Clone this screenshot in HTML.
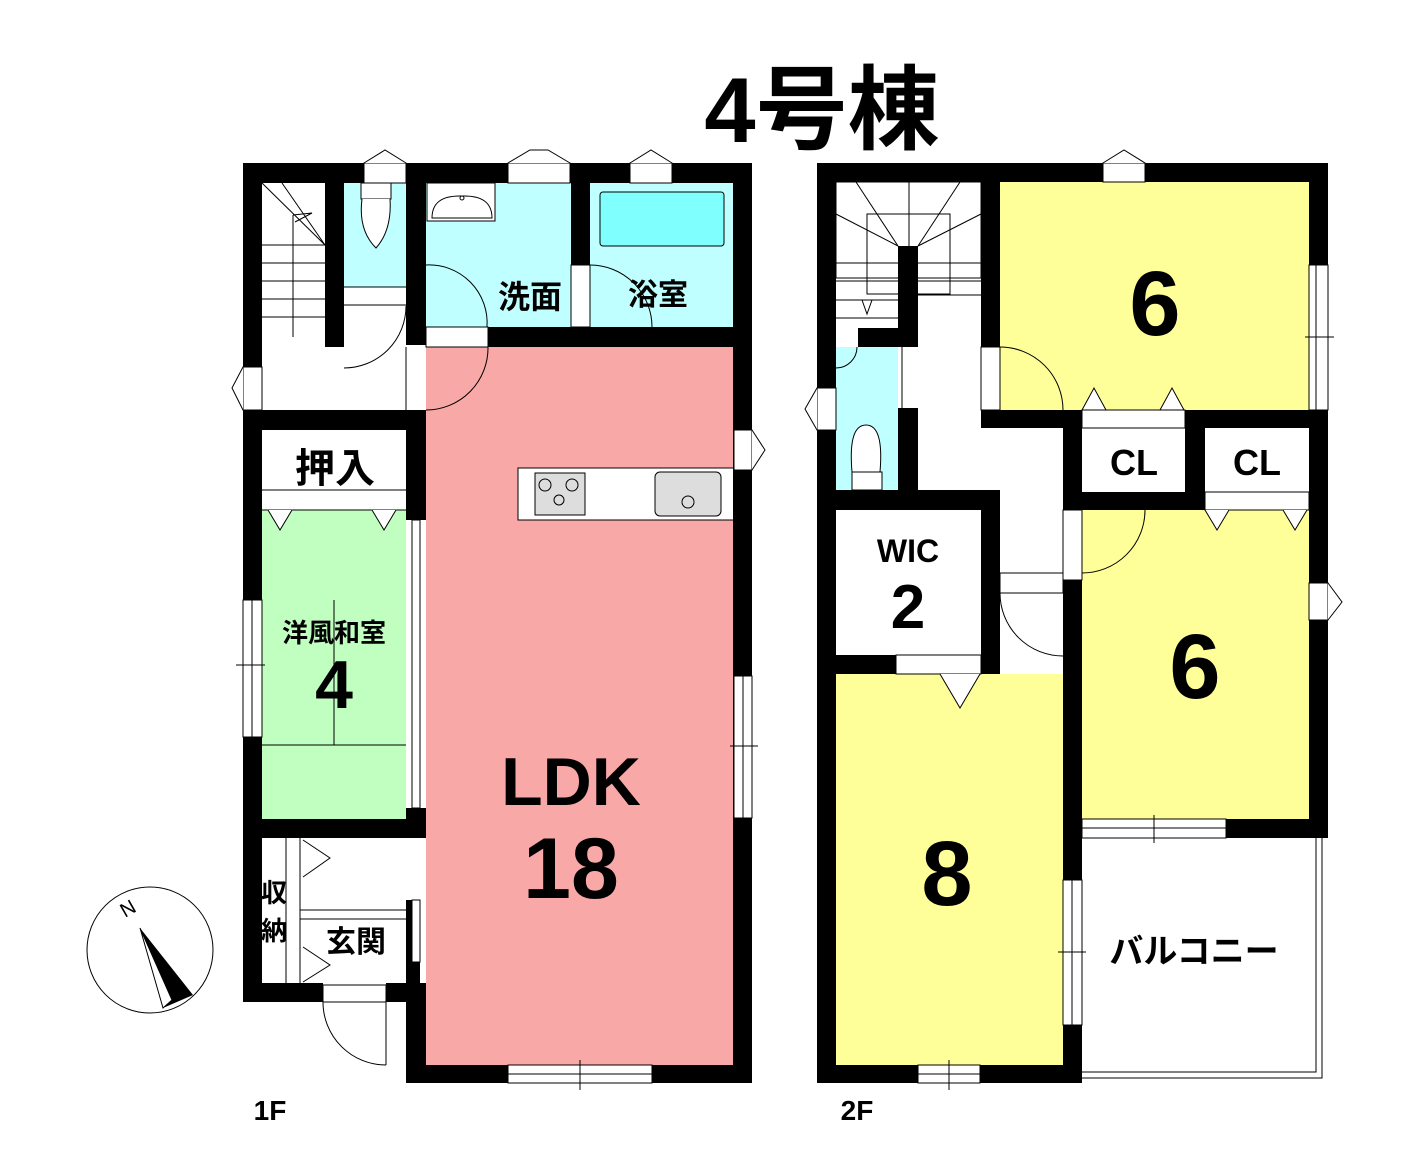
<!DOCTYPE html>
<html><head><meta charset="utf-8"><style>
html,body{margin:0;padding:0;background:#fff}
svg{display:block}
text{font-family:"Liberation Sans","Noto Sans CJK JP",sans-serif;font-weight:bold}
</style></head><body>
<svg width="1412" height="1176" viewBox="0 0 1412 1176" xmlns="http://www.w3.org/2000/svg">
<rect width="1412" height="1176" fill="#fff"/>
<text x="822" y="142" font-size="92" text-anchor="middle">4号棟</text>

<!-- ===== 1F fills ===== -->
<rect x="426" y="346" width="308" height="719" fill="#f9a8a8"/>
<rect x="344" y="183" width="62" height="104" fill="#c0ffff"/>
<rect x="426" y="183" width="145" height="144" fill="#c0ffff"/>
<rect x="590" y="183" width="144" height="144" fill="#c0ffff"/>
<rect x="600" y="192" width="124" height="54" rx="3" fill="#80ffff" stroke="#000"/>
<rect x="262" y="510" width="144" height="309" fill="#c0ffc0"/>
<g stroke="#000" stroke-width="1" fill="none">
<line x1="262" y1="745" x2="406" y2="745"/><line x1="334" y1="600" x2="334" y2="745"/>
<line x1="262" y1="490" x2="406" y2="490"/><line x1="262" y1="510" x2="406" y2="510"/>
<polyline points="268,510 280,530 292,510" fill="#fff"/><polyline points="372,510 384,530 396,510" fill="#fff"/>
<line x1="262" y1="245" x2="325" y2="245"/><line x1="262" y1="263" x2="325" y2="263"/>
<line x1="262" y1="281" x2="325" y2="281"/><line x1="262" y1="299" x2="325" y2="299"/>
<line x1="262" y1="317" x2="325" y2="317"/><line x1="293" y1="215" x2="293" y2="337"/>
<line x1="262" y1="183" x2="325" y2="245"/><line x1="282" y1="183" x2="325" y2="245"/>
<polyline points="293,215 312,213 295,222"/>
<rect x="361" y="183" width="30" height="16" fill="#fff"/>
<path d="M362,199 Q358,230 376,248 Q392,230 390,199" fill="#fff"/>
<rect x="427" y="183" width="68" height="38" fill="#fff"/>
<path d="M432,218 Q432,195 462,196 Q492,195 492,218Z" fill="#fff"/><circle cx="462" cy="198" r="2"/>
<line x1="344" y1="287" x2="406" y2="287"/><line x1="344" y1="305" x2="406" y2="305"/>
<path d="M344,368 A62,62 0 0 0 406,306"/>
<path d="M426,265 A58,58 0 0 1 487,327"/>
<rect x="571" y="265" width="19" height="62" fill="#fff"/>
<path d="M590,265 A62,62 0 0 1 652,327"/>
<rect x="426" y="327" width="62" height="20" fill="#fff"/>
<path d="M426,410 A62,62 0 0 0 488,347"/>
<line x1="406" y1="347" x2="406" y2="410"/>
<rect x="518" y="468" width="216" height="52" fill="#fff"/>
<rect x="535" y="473" width="50" height="42" fill="#ddd"/>
<rect x="655" y="472" width="66" height="44" rx="5" fill="#ddd"/>
<circle cx="545" cy="485" r="6"/><circle cx="572" cy="485" r="6"/><circle cx="559" cy="500" r="5"/><circle cx="688" cy="502" r="6"/>
<line x1="286" y1="838" x2="286" y2="983"/><line x1="300" y1="838" x2="300" y2="983"/>
<polyline points="303,840 330,858 303,877"/><polyline points="303,947 330,965 303,982"/>
<line x1="300" y1="910" x2="406" y2="910"/><line x1="300" y1="919" x2="406" y2="919"/>
<rect x="323" y="985" width="63" height="17" fill="#fff"/>
<path d="M323,1002 A63,63 0 0 0 386,1065"/><line x1="386" y1="1002" x2="386" y2="1065"/>
</g>
<g fill="#000">
<rect x="243" y="163" width="509" height="20"/>
<rect x="243" y="163" width="19" height="839"/>
<rect x="325" y="183" width="19" height="164"/>
<rect x="406" y="183" width="20" height="162"/>
<rect x="571" y="183" width="19" height="82"/>
<rect x="488" y="327" width="264" height="20"/>
<rect x="733" y="163" width="19" height="920"/>
<rect x="243" y="410" width="183" height="20"/>
<rect x="406" y="410" width="20" height="110"/>
<rect x="406" y="808" width="20" height="30"/>
<rect x="243" y="819" width="183" height="19"/>
<rect x="406" y="900" width="14" height="102"/>
<rect x="243" y="983" width="80" height="19"/><rect x="386" y="983" width="40" height="19"/>
<rect x="406" y="983" width="20" height="100"/>
<rect x="406" y="1065" width="346" height="18"/>
</g>
<g fill="#fff" stroke="#000" stroke-width="1">
<rect x="364" y="163" width="42" height="20"/><polyline points="364,163 385,150 406,163"/>
<rect x="508" y="163" width="62" height="20"/><polyline points="508,163 530,150 548,150 570,163"/>
<rect x="630" y="163" width="42" height="20"/><polyline points="630,163 651,150 672,163"/>
<rect x="243" y="367" width="19" height="43"/><polyline points="243,367 232,388 243,410"/>
<rect x="734" y="430" width="18" height="40"/><polyline points="752,430 765,450 752,470"/>
<rect x="734" y="676" width="18" height="142"/><line x1="743" y1="676" x2="743" y2="818"/><line x1="730" y1="746" x2="758" y2="746"/>
<rect x="243" y="600" width="19" height="137"/><line x1="252" y1="600" x2="252" y2="737"/><line x1="236" y1="665" x2="265" y2="665"/>
<rect x="508" y="1065" width="144" height="18"/><line x1="508" y1="1074" x2="652" y2="1074"/><line x1="580" y1="1060" x2="580" y2="1090"/>
<rect x="412" y="520" width="8" height="288"/>
<rect x="412" y="900" width="8" height="62"/>
</g>
<text x="335" y="482" font-size="40" text-anchor="middle">押入</text>
<text x="334" y="642" font-size="26" text-anchor="middle">洋風和室</text>
<text x="334" y="708" font-size="68" text-anchor="middle">4</text>
<text x="498" y="308" font-size="32">洗面</text>
<text x="628" y="305" font-size="30">浴室</text>
<text x="571" y="805" font-size="68" text-anchor="middle">LDK</text>
<text x="571" y="898" font-size="86" text-anchor="middle">18</text>
<text x="261" y="902" font-size="26">収</text><text x="261" y="940" font-size="26">納</text>
<text x="356" y="952" font-size="30" text-anchor="middle">玄関</text>
<text x="270" y="1120" font-size="28" text-anchor="middle">1F</text>

<!-- ===== 2F ===== -->
<rect x="1000" y="182" width="309" height="228" fill="#ffff99"/>
<rect x="1082" y="510" width="227" height="309" fill="#ffff99"/>
<rect x="836" y="674" width="227" height="391" fill="#ffff99"/>
<rect x="836" y="347" width="62" height="143" fill="#c0ffff"/>
<g stroke="#000" stroke-width="1" fill="none">
<rect x="836" y="182" width="145" height="96" fill="#fff"/>
<line x1="836" y1="214" x2="898" y2="246"/><line x1="856" y1="182" x2="898" y2="246"/>
<line x1="960" y1="182" x2="918" y2="246"/><line x1="981" y1="214" x2="918" y2="246"/>
<line x1="909" y1="182" x2="909" y2="246"/>
<rect x="867" y="214" width="83" height="80"/>
<line x1="836" y1="263" x2="898" y2="263"/><line x1="836" y1="281" x2="898" y2="281"/><line x1="836" y1="300" x2="898" y2="300"/><line x1="836" y1="318" x2="898" y2="318"/>
<line x1="918" y1="263" x2="981" y2="263"/><line x1="918" y1="281" x2="981" y2="281"/><line x1="918" y1="295" x2="981" y2="295"/>
<polyline points="862,300 867,314 872,300"/>
<path d="M836,368 A21,21 0 0 0 857,347"/>
<path d="M852,472 Q848,425 866,425 Q884,425 880,472" fill="#fff"/>
<rect x="852" y="472" width="30" height="18" fill="#fff"/>
<line x1="902" y1="347" x2="902" y2="408"/>
<rect x="981" y="347" width="19" height="63" fill="#fff"/>
<path d="M1000,347 A63,63 0 0 1 1063,410"/>
<polyline points="1082,410 1094,388 1106,410" fill="#fff"/><polyline points="1160,410 1172,388 1184,410" fill="#fff"/>
<rect x="1082" y="410" width="103" height="18" fill="#fff"/>
<rect x="1205" y="492" width="104" height="18" fill="#fff"/>
<polyline points="1205,510 1217,530 1229,510" fill="#fff"/><polyline points="1283,510 1295,530 1307,510" fill="#fff"/>
<rect x="1063" y="510" width="19" height="70" fill="#fff"/>
<path d="M1082,573 A63,63 0 0 0 1145,510"/>
<rect x="1000" y="573" width="63" height="20" fill="#fff"/>
<path d="M1000,593 A63,63 0 0 0 1063,656"/>
<rect x="896" y="655" width="85" height="19" fill="#fff"/>
<polyline points="940,674 960,708 980,674" fill="#fff"/>
<polyline points="1082,1072 1316,1072 1316,838"/>
<polyline points="1082,1078 1322,1078 1322,838"/>
</g>
<g fill="#000">
<rect x="817" y="163" width="511" height="19"/>
<rect x="817" y="163" width="19" height="920"/>
<rect x="981" y="163" width="19" height="184"/>
<rect x="898" y="246" width="20" height="100"/>
<rect x="858" y="328" width="60" height="19"/>
<rect x="1309" y="163" width="19" height="675"/>
<rect x="981" y="410" width="101" height="18"/>
<rect x="1063" y="410" width="19" height="100"/>
<rect x="1185" y="410" width="20" height="100"/>
<rect x="1063" y="492" width="142" height="18"/>
<rect x="1205" y="410" width="104" height="18"/>
<rect x="898" y="408" width="20" height="82"/>
<rect x="817" y="490" width="183" height="20"/>
<rect x="981" y="490" width="19" height="184"/>
<rect x="836" y="655" width="60" height="19"/>
<rect x="1063" y="580" width="19" height="300"/>
<rect x="1063" y="1025" width="19" height="58"/>
<rect x="817" y="1065" width="265" height="18"/>
<rect x="1226" y="819" width="102" height="19"/>
</g>
<g fill="#fff" stroke="#000" stroke-width="1">
<rect x="1103" y="163" width="42" height="19"/><polyline points="1103,163 1124,150 1145,163"/>
<rect x="817" y="388" width="19" height="42"/><polyline points="817,388 805,409 817,430"/>
<rect x="1309" y="265" width="19" height="145"/><line x1="1316" y1="265" x2="1316" y2="410"/><line x1="1305" y1="337" x2="1334" y2="337"/>
<rect x="1309" y="583" width="19" height="37"/><polyline points="1328,583 1342,602 1328,620"/>
<rect x="1082" y="819" width="144" height="19"/><line x1="1082" y1="828" x2="1226" y2="828"/><line x1="1154" y1="815" x2="1154" y2="843"/>
<rect x="1063" y="880" width="19" height="145"/><line x1="1072" y1="880" x2="1072" y2="1025"/><line x1="1058" y1="952" x2="1086" y2="952"/>
<rect x="918" y="1065" width="62" height="18"/><line x1="918" y1="1074" x2="980" y2="1074"/><line x1="949" y1="1060" x2="949" y2="1090"/>
</g>
<text x="1155" y="335" font-size="92" text-anchor="middle">6</text>
<text x="1195" y="698" font-size="92" text-anchor="middle">6</text>
<text x="947" y="905" font-size="92" text-anchor="middle">8</text>
<text x="1134" y="475" font-size="36" text-anchor="middle">CL</text>
<text x="1257" y="475" font-size="36" text-anchor="middle">CL</text>
<text x="908" y="562" font-size="32" text-anchor="middle">WIC</text>
<text x="908" y="628" font-size="62" text-anchor="middle">2</text>
<text x="1194" y="963" font-size="34" text-anchor="middle">バルコニー</text>
<text x="857" y="1120" font-size="28" text-anchor="middle">2F</text>

<circle cx="150" cy="950" r="63" fill="none" stroke="#000" stroke-width="1"/>
<polygon points="140,928 163,1008 193,995" fill="#000"/>
<polygon points="140,928 163,1008 172,1000" fill="#fff" stroke="#000"/>
<text x="125" y="918" font-size="20" transform="rotate(-30 125 918)" style="font-weight:normal">N</text>
</svg>
</body></html>
